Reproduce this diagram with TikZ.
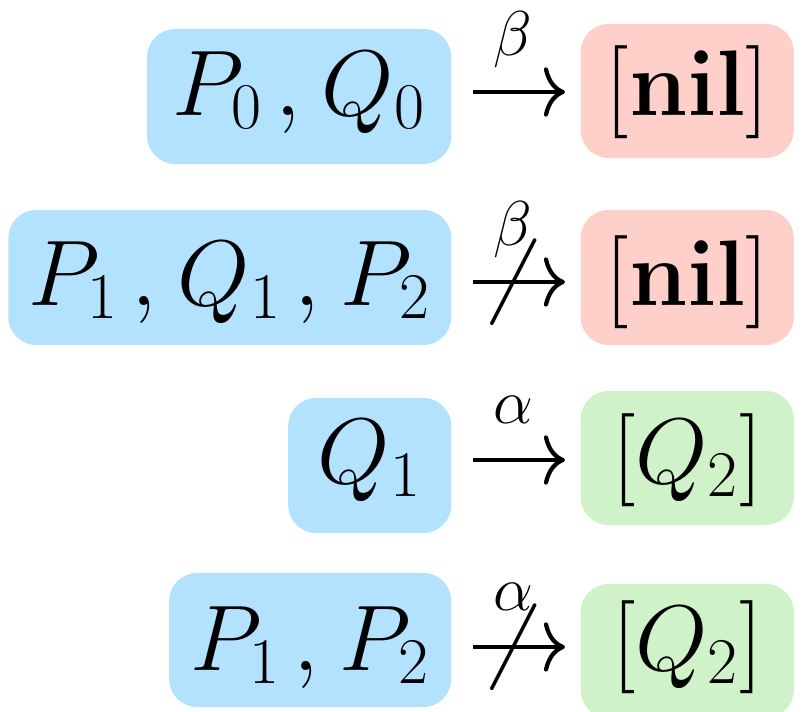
\RequirePackage{fix-cm}
\documentclass[tikz,border=0pt]{standalone}
\usetikzlibrary{arrows.meta}

\definecolor{procblue}{RGB}{179,226,255}
\definecolor{nilred}{RGB}{255,207,202}
\definecolor{resgreen}{RGB}{208,242,200}

\newcommand{\sep}{\mkern2.5mu,\mkern1mu}

\begin{document}
\begin{tikzpicture}[
  x=0.01cm, y=-0.01cm,
  every node/.style={font=\fontsize{26.5}{31}\selectfont},
  lhs/.style={rectangle, rounded corners=0.28cm, fill=procblue,
    anchor=base east, inner xsep=0.2cm, inner ysep=0.2cm},
  rhs/.style={rectangle, rounded corners=0.28cm, minimum width=2.13cm,
    anchor=base west, inner xsep=0.24cm, inner ysep=0.2cm},
  arr/.style={-{Computer Modern Rightarrow[length=6pt,width=14pt]},
    line width=1.2pt, shorten <=0.21cm, shorten >=0.15cm},
  lbl/.style={font=\fontsize{18}{20}\selectfont, above, xshift=-0.03cm,
    text depth=4pt, inner sep=5.7pt},
  slash/.style={inner sep=0pt, xshift=0.08cm},
]
\useasboundingbox (0,0) rectangle (802,712);

% ============================================================
% ROW 1: P0, Q0 --beta--> [nil]
% ============================================================
\node[lhs, minimum width=3.04cm, text height=0.66cm, text depth=0.29cm] (p0q0) at (452,115) {\(P_0\sep Q_0\)};
\node[rhs, fill=nilred, text height=0.71cm, text depth=0.23cm] (nilA) at (580,115) {\([\mathbf{nil}]\)};
\draw[arr] ([yshift=0.23cm]p0q0.base east) -- node[lbl] {\(\beta\)} ([yshift=0.23cm]nilA.base west);

% ============================================================
% ROW 2: P1, Q1, P2 -/beta/-> [nil]
% ============================================================
\node[lhs, minimum width=4.40cm, text height=0.75cm, text depth=0.20cm] (p1q1p2) at (452,305) {\(P_1\sep Q_1\sep P_2\)};
\node[rhs, fill=nilred, text height=0.75cm, text depth=0.20cm] (nilB) at (580,305) {\([\mathbf{nil}]\)};
\draw[arr] ([yshift=0.23cm]p1q1p2.base east) -- node[lbl] {\(\beta\)} node[slash] {\(\not\mathrel{\phantom{\rightarrow}}\)} ([yshift=0.23cm]nilB.base west);

% ============================================================
% ROW 3: Q1 --alpha--> [Q2]
% ============================================================
\node[lhs, minimum width=1.63cm, text height=0.65cm, text depth=0.30cm] (q1) at (452,483) {\(Q_1\)};
\node[rhs, fill=resgreen, text height=0.72cm, text depth=0.22cm] (q2A) at (580,483) {\([Q_2]\)};
\draw[arr] ([yshift=0.23cm]q1.base east) -- node[lbl] {\(\alpha\)} ([yshift=0.23cm]q2A.base west);

% ============================================================
% ROW 4: P1, P2 -/alpha/-> [Q2]
% ============================================================
\node[lhs, minimum width=2.82cm, text height=0.77cm, text depth=0.17cm] (p1p2) at (452,670) {\(P_1\sep P_2\)};
\node[rhs, fill=resgreen, text height=0.66cm, text depth=0.28cm] (q2B) at (580,670) {\([Q_2]\)};
\draw[arr] ([yshift=0.23cm]p1p2.base east) -- node[lbl] {\(\alpha\)} node[slash] {\(\not\mathrel{\phantom{\rightarrow}}\)} ([yshift=0.23cm]q2B.base west);

\end{tikzpicture}
\end{document}
